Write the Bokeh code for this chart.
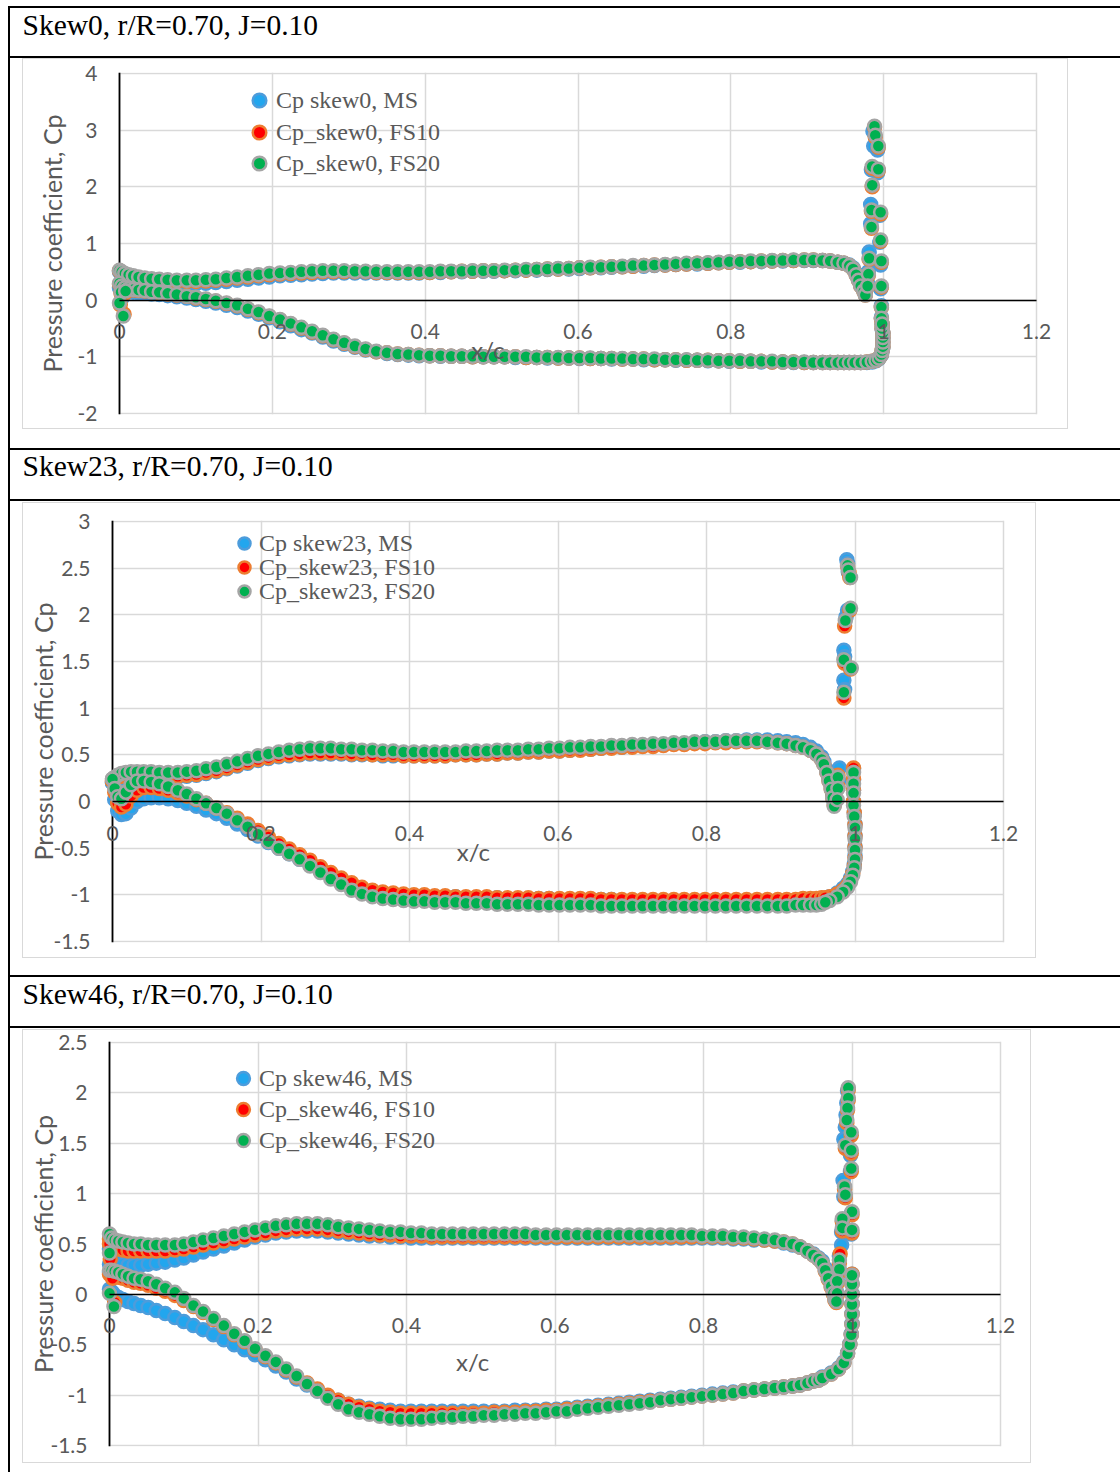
from bokeh.plotting import figure
from bokeh.layouts import column, row
from bokeh.models import Range1d, Label, Legend, LegendItem, Spacer, FixedTicker, Span
from bokeh.core.properties import value
from bokeh.embed import file_html
from bokeh.resources import INLINE

# ------------------------------------------------------------------ data
TITLES = ["Skew0, r/R=0.70, J=0.10", "Skew23, r/R=0.70, J=0.10", "Skew46, r/R=0.70, J=0.10"]
NAMES_1 = ["Cp skew0, MS", "Cp_skew0, FS10", "Cp_skew0, FS20"]
NAMES_2 = ["Cp skew23, MS", "Cp_skew23, FS10", "Cp_skew23, FS20"]
NAMES_3 = ["Cp skew46, MS", "Cp_skew46, FS10", "Cp_skew46, FS20"]
X_TITLE = "x/c"
Y_TITLE = "Pressure coefficient, Cp"

X_TICKS = [0, 0.2, 0.4, 0.6, 0.8, 1, 1.2]
X_TICK_LABELS = ["0", "0.2", "0.4", "0.6", "0.8", "1", "1.2"]
Y_TICKS_1 = [-2, -1, 0, 1, 2, 3, 4]
Y_TICK_LABELS_1 = ["-2", "-1", "0", "1", "2", "3", "4"]
Y_TICKS_2 = [-1.5, -1, -0.5, 0, 0.5, 1, 1.5, 2, 2.5, 3]
Y_TICK_LABELS_2 = ["-1.5", "-1", "-0.5", "0", "0.5", "1", "1.5", "2", "2.5", "3"]
Y_TICKS_3 = [-1.5, -1, -0.5, 0, 0.5, 1, 1.5, 2, 2.5]
Y_TICK_LABELS_3 = ["-1.5", "-1", "-0.5", "0", "0.5", "1", "1.5", "2", "2.5"]

# chordwise stations (shared by both surfaces)
X_ST = [0.000, 0.003, 0.007, 0.012, 0.018, 0.025, 0.033, 0.042, 0.052, 0.063,
        0.075, 0.088, 0.100, 0.113, 0.126, 0.140, 0.154, 0.168, 0.182, 0.196,
        0.210, 0.224, 0.238, 0.252, 0.266, 0.280, 0.294, 0.308, 0.322, 0.336,
        0.350, 0.364, 0.378, 0.392, 0.406, 0.420, 0.434, 0.448, 0.462, 0.476,
        0.490, 0.504, 0.518, 0.532, 0.546, 0.560, 0.574, 0.588, 0.602, 0.616,
        0.630, 0.644, 0.658, 0.672, 0.686, 0.700, 0.714, 0.728, 0.742, 0.756,
        0.770, 0.784, 0.798, 0.812, 0.826, 0.840, 0.854, 0.868, 0.882, 0.896,
        0.908, 0.920, 0.930, 0.940, 0.948, 0.955]

# ---------------- Skew0
P1_MS_UP = [0.50, 0.44, 0.38, 0.34, 0.31, 0.29, 0.28, 0.27, 0.27, 0.27,
            0.27, 0.28, 0.29, 0.30, 0.31, 0.33, 0.35, 0.37, 0.39, 0.41,
            0.43, 0.44, 0.45, 0.46, 0.47, 0.48, 0.48, 0.48, 0.48, 0.48,
            0.48, 0.48, 0.48, 0.48, 0.49, 0.49, 0.50, 0.50, 0.51, 0.51,
            0.51, 0.52, 0.52, 0.53, 0.53, 0.54, 0.55, 0.55, 0.56, 0.57,
            0.57, 0.58, 0.59, 0.60, 0.60, 0.61, 0.62, 0.63, 0.64, 0.64,
            0.65, 0.66, 0.67, 0.67, 0.68, 0.68, 0.69, 0.69, 0.70, 0.70,
            0.70, 0.70, 0.69, 0.67, 0.65, 0.62]
P1_MS_LO = [0.22, 0.18, 0.16, 0.15, 0.14, 0.13, 0.12, 0.11, 0.10, 0.08,
            0.06, 0.04, 0.01, -0.02, -0.05, -0.09, -0.13, -0.19, -0.25, -0.31,
            -0.38, -0.45, -0.52, -0.58, -0.65, -0.72, -0.78, -0.83, -0.88, -0.91,
            -0.94, -0.96, -0.97, -0.98, -0.98, -0.99, -0.99, -0.99, -1.00, -1.00,
            -1.00, -1.00, -1.01, -1.01, -1.01, -1.02, -1.02, -1.02, -1.03, -1.03,
            -1.03, -1.04, -1.04, -1.04, -1.05, -1.05, -1.05, -1.06, -1.06, -1.06,
            -1.07, -1.07, -1.08, -1.08, -1.08, -1.09, -1.09, -1.09, -1.10, -1.10,
            -1.10, -1.10, -1.10, -1.10, -1.10, -1.10]
P1_MS_EX_X = [0.001, 0.004,
              0.960, 0.964, 0.967, 0.970, 0.974, 0.976,
              0.986, 0.987, 0.992, 0.984, 0.992, 0.983, 0.995, 0.983, 0.995, 0.981, 0.996, 0.980,
              0.979, 0.996, 0.997, 0.997,
              0.962, 0.970, 0.978, 0.985, 0.990, 0.994, 0.997, 0.998, 0.999, 0.999, 0.999, 0.999,
              0.998, 0.998]
P1_MS_EX_CP = [0.30, 0.05,
               0.57, 0.47, 0.37, 0.27, 0.18, 0.10,
               2.98, 2.72, 2.65, 2.30, 2.25, 1.69, 1.50, 1.35, 1.02, 0.85, 0.62, 0.50,
               0.30, 0.20, -0.10, -0.30,
               -1.10, -1.10, -1.10, -1.09, -1.07, -1.03, -0.97, -0.90, -0.83, -0.75, -0.67, -0.59,
               -0.51, -0.43]

P1_FS10_UP = [0.52, 0.48, 0.44, 0.41, 0.39, 0.37, 0.36, 0.35, 0.34, 0.33,
              0.33, 0.33, 0.33, 0.34, 0.35, 0.37, 0.39, 0.41, 0.43, 0.45,
              0.46, 0.47, 0.48, 0.49, 0.50, 0.50, 0.50, 0.50, 0.50, 0.49,
              0.49, 0.49, 0.49, 0.49, 0.49, 0.50, 0.50, 0.51, 0.51, 0.52,
              0.52, 0.52, 0.53, 0.53, 0.54, 0.55, 0.55, 0.56, 0.57, 0.57,
              0.58, 0.59, 0.59, 0.60, 0.61, 0.62, 0.62, 0.63, 0.64, 0.65,
              0.65, 0.66, 0.67, 0.68, 0.68, 0.69, 0.69, 0.70, 0.70, 0.71,
              0.71, 0.70, 0.69, 0.67, 0.65, 0.61]
P1_FS10_LO = [0.28, 0.24, 0.21, 0.19, 0.18, 0.17, 0.16, 0.15, 0.13, 0.11,
              0.09, 0.07, 0.04, 0.01, -0.02, -0.06, -0.10, -0.16, -0.22, -0.29,
              -0.35, -0.42, -0.49, -0.56, -0.63, -0.70, -0.76, -0.82, -0.87, -0.91,
              -0.93, -0.95, -0.96, -0.97, -0.98, -0.98, -0.99, -0.99, -1.00, -1.00,
              -1.00, -1.00, -1.00, -1.01, -1.01, -1.01, -1.02, -1.02, -1.02, -1.03,
              -1.03, -1.03, -1.04, -1.04, -1.04, -1.05, -1.05, -1.05, -1.06, -1.06,
              -1.06, -1.07, -1.07, -1.08, -1.08, -1.08, -1.09, -1.09, -1.09, -1.10,
              -1.10, -1.10, -1.10, -1.10, -1.10, -1.10]
P1_FS10_EX_X = [0.002, 0.007, 0.001, 0.006,
                0.960, 0.964, 0.967, 0.970, 0.974, 0.976,
                0.988, 0.989, 0.993, 0.985, 0.993, 0.985, 0.984, 0.996, 0.984, 0.996, 0.981, 0.997,
                0.980, 0.979, 0.997, 0.997, 0.997,
                0.962, 0.970, 0.978, 0.985, 0.990, 0.994, 0.997, 0.998, 0.999, 0.999, 0.999, 0.999,
                0.998, 0.998]
P1_FS10_EX_CP = [0.12, 0.12, -0.08, -0.25,
                 0.55, 0.45, 0.35, 0.25, 0.16, 0.09,
                 3.05, 2.88, 2.70, 2.33, 2.29, 2.00, 1.57, 1.52, 1.27, 1.04, 0.72, 0.67,
                 0.44, 0.24, 0.23, -0.13, -0.33,
                 -1.10, -1.10, -1.09, -1.08, -1.06, -1.02, -0.96, -0.89, -0.82, -0.74, -0.66, -0.58,
                 -0.50, -0.42]

P1_FS20_UP = [0.53, 0.50, 0.47, 0.45, 0.43, 0.41, 0.39, 0.38, 0.37, 0.36,
              0.35, 0.35, 0.35, 0.36, 0.37, 0.39, 0.41, 0.43, 0.45, 0.47,
              0.48, 0.49, 0.50, 0.51, 0.52, 0.52, 0.52, 0.51, 0.51, 0.50,
              0.50, 0.50, 0.50, 0.50, 0.50, 0.51, 0.51, 0.51, 0.52, 0.52,
              0.52, 0.53, 0.53, 0.54, 0.54, 0.55, 0.56, 0.56, 0.57, 0.58,
              0.58, 0.59, 0.60, 0.61, 0.61, 0.62, 0.63, 0.64, 0.65, 0.65,
              0.66, 0.67, 0.68, 0.68, 0.69, 0.69, 0.70, 0.70, 0.71, 0.71,
              0.71, 0.70, 0.69, 0.67, 0.65, 0.61]
P1_FS20_LO = [0.30, 0.25, 0.22, 0.20, 0.19, 0.18, 0.17, 0.15, 0.14, 0.12,
              0.10, 0.07, 0.05, 0.02, -0.01, -0.05, -0.09, -0.15, -0.21, -0.28,
              -0.34, -0.41, -0.48, -0.55, -0.62, -0.69, -0.75, -0.81, -0.86, -0.90,
              -0.93, -0.95, -0.96, -0.97, -0.98, -0.98, -0.99, -0.99, -0.99, -1.00,
              -1.00, -1.00, -1.00, -1.00, -1.01, -1.01, -1.01, -1.02, -1.02, -1.02,
              -1.03, -1.03, -1.03, -1.04, -1.04, -1.04, -1.05, -1.05, -1.05, -1.06,
              -1.06, -1.07, -1.07, -1.07, -1.08, -1.08, -1.08, -1.09, -1.09, -1.09,
              -1.10, -1.10, -1.10, -1.10, -1.10, -1.10]
P1_FS20_EX_X = [0.002, 0.008, 0.000, 0.005,
                0.960, 0.964, 0.967, 0.970, 0.974, 0.976,
                0.988, 0.989, 0.993, 0.985, 0.993, 0.985, 0.984, 0.996, 0.984, 0.996, 0.981, 0.997,
                0.980, 0.979, 0.997, 0.997, 0.997,
                0.962, 0.970, 0.978, 0.985, 0.990, 0.994, 0.997, 0.998, 0.999, 0.999, 0.999, 0.999,
                0.998, 0.998]
P1_FS20_EX_CP = [0.14, 0.16, -0.05, -0.28,
                 0.55, 0.45, 0.35, 0.25, 0.16, 0.09,
                 3.07, 2.91, 2.72, 2.36, 2.31, 2.03, 1.59, 1.55, 1.29, 1.06, 0.74, 0.69,
                 0.46, 0.25, 0.25, -0.12, -0.32,
                 -1.10, -1.10, -1.09, -1.08, -1.06, -1.02, -0.96, -0.89, -0.82, -0.74, -0.66, -0.58,
                 -0.50, -0.42]

# ---------------- Skew23
P2_MS_UP = [0.20, 0.22, 0.24, 0.25, 0.26, 0.26, 0.26, 0.26, 0.26, 0.26,
            0.26, 0.26, 0.27, 0.28, 0.30, 0.32, 0.35, 0.38, 0.41, 0.44,
            0.46, 0.48, 0.49, 0.50, 0.51, 0.51, 0.51, 0.51, 0.50, 0.50,
            0.50, 0.49, 0.49, 0.49, 0.49, 0.49, 0.49, 0.49, 0.50, 0.50,
            0.50, 0.51, 0.51, 0.52, 0.52, 0.53, 0.53, 0.54, 0.54, 0.55,
            0.56, 0.56, 0.57, 0.58, 0.58, 0.59, 0.60, 0.60, 0.61, 0.62,
            0.62, 0.63, 0.64, 0.64, 0.65, 0.65, 0.66, 0.66, 0.66, 0.65,
            0.64, 0.63, 0.61, 0.58, 0.54, 0.48]
P2_MS_LO = [0.20, 0.02, -0.10, -0.14, -0.13, -0.07, 0.00, 0.03, 0.04, 0.04,
            0.03, 0.01, -0.02, -0.05, -0.09, -0.13, -0.18, -0.24, -0.30, -0.37,
            -0.44, -0.50, -0.56, -0.62, -0.68, -0.74, -0.80, -0.85, -0.90, -0.94,
            -0.96, -0.98, -0.99, -1.00, -1.01, -1.01, -1.02, -1.02, -1.02, -1.03,
            -1.03, -1.03, -1.03, -1.04, -1.04, -1.04, -1.04, -1.04, -1.05, -1.05,
            -1.05, -1.05, -1.05, -1.05, -1.06, -1.06, -1.06, -1.06, -1.06, -1.06,
            -1.06, -1.06, -1.06, -1.06, -1.06, -1.06, -1.06, -1.06, -1.06, -1.06,
            -1.06, -1.06, -1.05, -1.05, -1.05, -1.04]
P2_MS_EX_X = [0.958, 0.962, 0.965, 0.968, 0.970, 0.972, 0.979, 0.978,
              0.989, 0.990, 0.991, 0.990, 0.988, 0.985, 0.986, 0.985, 0.986,
              0.998, 0.998, 0.998, 0.998, 0.999, 1.000, 1.000, 1.000, 1.000, 0.999, 0.997, 0.994,
              0.990, 0.984, 0.976, 0.966, 0.960]
P2_MS_EX_CP = [0.43, 0.34, 0.25, 0.16, 0.07, -0.02, 0.36, 0.22,
               2.59, 2.55, 2.46, 2.05, 1.98, 1.62, 1.55, 1.30, 1.20,
               0.35, 0.23, 0.12, 0.00, -0.12, -0.24, -0.36, -0.48, -0.58, -0.67, -0.75, -0.82,
               -0.88, -0.93, -0.98, -1.02, -1.04]

P2_FS10_UP = [0.22, 0.24, 0.26, 0.27, 0.28, 0.28, 0.28, 0.28, 0.28, 0.27,
              0.27, 0.27, 0.28, 0.29, 0.31, 0.33, 0.36, 0.39, 0.42, 0.45,
              0.47, 0.49, 0.50, 0.51, 0.52, 0.52, 0.52, 0.52, 0.51, 0.51,
              0.50, 0.50, 0.50, 0.49, 0.49, 0.49, 0.49, 0.49, 0.50, 0.50,
              0.50, 0.51, 0.51, 0.52, 0.52, 0.53, 0.53, 0.54, 0.54, 0.55,
              0.55, 0.56, 0.57, 0.57, 0.58, 0.58, 0.59, 0.59, 0.60, 0.61,
              0.61, 0.62, 0.62, 0.63, 0.63, 0.64, 0.64, 0.64, 0.64, 0.63,
              0.62, 0.60, 0.58, 0.55, 0.51, 0.45]
P2_FS10_LO = [0.22, 0.10, -0.02, -0.06, -0.03, 0.06, 0.12, 0.15, 0.15, 0.14,
              0.12, 0.09, 0.06, 0.02, -0.02, -0.07, -0.12, -0.18, -0.24, -0.31,
              -0.38, -0.45, -0.51, -0.57, -0.63, -0.70, -0.76, -0.82, -0.87, -0.92,
              -0.95, -0.97, -0.98, -0.99, -1.00, -1.00, -1.01, -1.01, -1.02, -1.02,
              -1.02, -1.02, -1.03, -1.03, -1.03, -1.03, -1.04, -1.04, -1.04, -1.04,
              -1.04, -1.04, -1.05, -1.05, -1.05, -1.05, -1.05, -1.05, -1.05, -1.05,
              -1.05, -1.05, -1.05, -1.05, -1.05, -1.05, -1.05, -1.05, -1.05, -1.05,
              -1.05, -1.05, -1.04, -1.04, -1.04, -1.03]
P2_FS10_EX_X = [0.958, 0.962, 0.965, 0.968, 0.970, 0.972, 0.977, 0.977,
                0.990, 0.992, 0.993, 0.993, 0.986, 0.986, 0.994, 0.985,
                0.998, 0.998, 0.998, 0.998, 0.999, 1.000, 1.000, 1.000, 1.000, 0.999, 0.997, 0.994,
                0.990, 0.984, 0.976, 0.966, 0.960]
P2_FS10_EX_CP = [0.40, 0.31, 0.22, 0.13, 0.04, -0.04, 0.28, 0.16,
                 2.52, 2.45, 2.40, 2.05, 1.88, 1.48, 1.42, 1.11,
                 0.36, 0.24, 0.12, 0.00, -0.12, -0.25, -0.37, -0.49, -0.60, -0.69, -0.77, -0.84,
                 -0.90, -0.95, -0.99, -1.02, -1.03]

P2_FS20_UP = [0.24, 0.26, 0.28, 0.30, 0.31, 0.32, 0.32, 0.32, 0.32, 0.31,
              0.31, 0.31, 0.32, 0.33, 0.35, 0.37, 0.40, 0.43, 0.46, 0.49,
              0.51, 0.53, 0.55, 0.56, 0.57, 0.57, 0.57, 0.56, 0.56, 0.55,
              0.55, 0.54, 0.54, 0.53, 0.53, 0.53, 0.53, 0.53, 0.53, 0.54,
              0.54, 0.54, 0.55, 0.55, 0.55, 0.56, 0.56, 0.57, 0.57, 0.58,
              0.58, 0.59, 0.59, 0.60, 0.60, 0.61, 0.61, 0.62, 0.62, 0.63,
              0.63, 0.64, 0.64, 0.64, 0.65, 0.65, 0.65, 0.65, 0.64, 0.63,
              0.62, 0.60, 0.58, 0.55, 0.51, 0.45]
P2_FS20_LO = [0.24, 0.14, 0.05, 0.03, 0.10, 0.18, 0.22, 0.22, 0.21, 0.19,
              0.16, 0.12, 0.08, 0.03, -0.02, -0.07, -0.13, -0.20, -0.27, -0.35,
              -0.43, -0.50, -0.56, -0.62, -0.69, -0.76, -0.83, -0.89, -0.95, -0.99,
              -1.02, -1.04, -1.05, -1.06, -1.07, -1.07, -1.08, -1.08, -1.08, -1.09,
              -1.09, -1.09, -1.10, -1.10, -1.10, -1.10, -1.11, -1.11, -1.11, -1.11,
              -1.11, -1.11, -1.12, -1.12, -1.12, -1.12, -1.12, -1.12, -1.12, -1.12,
              -1.12, -1.12, -1.12, -1.12, -1.12, -1.12, -1.12, -1.12, -1.12, -1.12,
              -1.12, -1.11, -1.11, -1.11, -1.11, -1.10]
P2_FS20_EX_X = [0.958, 0.962, 0.965, 0.968, 0.970, 0.972, 0.977, 0.977, 0.976,
                0.990, 0.991, 0.994, 0.994, 0.987, 0.985, 0.995, 0.985,
                0.998, 0.998, 0.998, 0.998, 0.999, 1.000, 1.000, 1.000, 1.000, 0.999, 0.997, 0.994,
                0.990, 0.984, 0.976, 0.966, 0.960]
P2_FS20_EX_CP = [0.40, 0.31, 0.22, 0.13, 0.04, -0.05, 0.26, 0.14, 0.02,
                 2.53, 2.48, 2.40, 2.07, 1.94, 1.52, 1.43, 1.17,
                 0.31, 0.19, 0.09, -0.04, -0.16, -0.28, -0.40, -0.52, -0.62, -0.71, -0.79, -0.86,
                 -0.92, -0.97, -1.02, -1.06, -1.08]

# ---------------- Skew46
P3_MS_UP = [0.45, 0.40, 0.35, 0.32, 0.30, 0.29, 0.29, 0.29, 0.30, 0.31,
            0.32, 0.34, 0.36, 0.39, 0.42, 0.45, 0.48, 0.51, 0.54, 0.57,
            0.59, 0.61, 0.62, 0.63, 0.63, 0.63, 0.62, 0.61, 0.60, 0.59,
            0.58, 0.58, 0.57, 0.57, 0.56, 0.56, 0.56, 0.56, 0.56, 0.56,
            0.56, 0.56, 0.56, 0.56, 0.56, 0.56, 0.56, 0.56, 0.56, 0.56,
            0.56, 0.56, 0.56, 0.56, 0.56, 0.56, 0.56, 0.56, 0.56, 0.56,
            0.56, 0.56, 0.56, 0.56, 0.56, 0.55, 0.55, 0.54, 0.54, 0.53,
            0.51, 0.49, 0.47, 0.43, 0.40, 0.36]
P3_MS_LO = [0.05, 0.02, -0.01, -0.03, -0.05, -0.07, -0.09, -0.11, -0.13, -0.16,
            -0.19, -0.23, -0.27, -0.31, -0.35, -0.40, -0.45, -0.50, -0.55, -0.60,
            -0.65, -0.71, -0.77, -0.84, -0.90, -0.96, -1.01, -1.05, -1.09, -1.11,
            -1.13, -1.14, -1.15, -1.16, -1.16, -1.16, -1.16, -1.16, -1.16, -1.16,
            -1.16, -1.16, -1.16, -1.16, -1.15, -1.15, -1.15, -1.14, -1.14, -1.13,
            -1.12, -1.11, -1.10, -1.09, -1.08, -1.07, -1.06, -1.05, -1.04, -1.03,
            -1.02, -1.01, -1.00, -0.99, -0.98, -0.97, -0.96, -0.95, -0.94, -0.93,
            -0.92, -0.91, -0.90, -0.88, -0.86, -0.85]
P3_MS_EX_X = [0.000, 0.000, 0.004,
              0.960, 0.964, 0.968, 0.972, 0.975, 0.977,
              0.994, 0.993, 0.992, 0.991, 0.997, 0.989, 0.998, 0.998, 0.988, 0.989, 0.999, 0.987,
              0.986, 0.999, 0.986, 0.983, 0.982, 0.980, 0.979, 0.978,
              0.960, 0.972, 0.982, 0.989, 0.994, 0.997, 0.999, 1.000, 1.000, 1.000, 1.000, 1.000,
              1.000]
P3_MS_EX_CP = [0.30, 0.22, 0.02,
               0.33, 0.26, 0.18, 0.10, 0.03, -0.03,
               2.02, 1.90, 1.78, 1.66, 1.57, 1.54, 1.38, 1.22, 1.13, 0.97, 0.80, 0.73,
               0.62, 0.60, 0.49, 0.38, 0.27, 0.15, 0.03, -0.05,
               -0.82, -0.78, -0.73, -0.67, -0.58, -0.49, -0.39, -0.29, -0.19, -0.09, 0.01, 0.11,
               0.20]

P3_FS10_UP = [0.55, 0.50, 0.47, 0.45, 0.44, 0.43, 0.43, 0.43, 0.43, 0.43,
              0.43, 0.44, 0.45, 0.47, 0.49, 0.51, 0.53, 0.55, 0.57, 0.59,
              0.61, 0.63, 0.64, 0.65, 0.65, 0.65, 0.64, 0.63, 0.62, 0.61,
              0.60, 0.59, 0.59, 0.58, 0.58, 0.58, 0.57, 0.57, 0.57, 0.57,
              0.57, 0.57, 0.57, 0.57, 0.57, 0.57, 0.57, 0.57, 0.57, 0.57,
              0.57, 0.57, 0.57, 0.57, 0.57, 0.57, 0.57, 0.57, 0.57, 0.57,
              0.57, 0.57, 0.57, 0.57, 0.57, 0.56, 0.56, 0.55, 0.54, 0.53,
              0.52, 0.50, 0.47, 0.43, 0.39, 0.35]
P3_FS10_LO = [0.20, 0.19, 0.18, 0.17, 0.16, 0.14, 0.12, 0.11, 0.09, 0.06,
              0.03, -0.01, -0.06, -0.12, -0.18, -0.25, -0.32, -0.40, -0.47, -0.55,
              -0.62, -0.68, -0.75, -0.82, -0.88, -0.94, -1.00, -1.05, -1.09, -1.12,
              -1.14, -1.16, -1.17, -1.18, -1.18, -1.18, -1.18, -1.18, -1.18, -1.18,
              -1.18, -1.18, -1.17, -1.17, -1.17, -1.16, -1.16, -1.15, -1.15, -1.14,
              -1.13, -1.12, -1.11, -1.10, -1.09, -1.08, -1.07, -1.06, -1.05, -1.04,
              -1.03, -1.02, -1.01, -1.00, -0.99, -0.98, -0.96, -0.95, -0.94, -0.93,
              -0.92, -0.91, -0.90, -0.88, -0.86, -0.85]
P3_FS10_EX_X = [0.000, 0.001, 0.004, 0.007,
                0.960, 0.964, 0.968, 0.972, 0.975, 0.977,
                0.995, 0.995, 0.994, 0.993, 0.999, 0.991, 0.999, 0.999, 0.990, 0.991, 1.000, 0.987,
                0.987, 1.000, 0.984, 0.983, 0.983, 0.980, 0.980, 0.979,
                0.960, 0.972, 0.982, 0.989, 0.994, 0.997, 0.999, 1.000, 1.000, 1.000, 1.000, 1.000,
                1.000]
P3_FS10_EX_CP = [0.50, 0.35, 0.16, -0.08,
                 0.31, 0.23, 0.15, 0.07, 0.00, -0.06,
                 2.03, 1.93, 1.83, 1.70, 1.58, 1.45, 1.40, 1.22, 1.04, 0.96, 0.79, 0.72,
                 0.63, 0.61, 0.40, 0.31, 0.22, 0.11, -0.01, -0.08,
                 -0.83, -0.79, -0.74, -0.68, -0.59, -0.50, -0.40, -0.30, -0.20, -0.10, 0.00, 0.10,
                 0.20]

P3_FS20_UP = [0.60, 0.56, 0.54, 0.53, 0.52, 0.51, 0.50, 0.50, 0.49, 0.49,
              0.49, 0.49, 0.50, 0.52, 0.54, 0.56, 0.58, 0.60, 0.62, 0.64,
              0.66, 0.68, 0.69, 0.70, 0.70, 0.70, 0.69, 0.67, 0.66, 0.65,
              0.64, 0.63, 0.62, 0.62, 0.61, 0.61, 0.60, 0.60, 0.60, 0.60,
              0.60, 0.60, 0.60, 0.60, 0.60, 0.60, 0.59, 0.59, 0.59, 0.59,
              0.59, 0.59, 0.59, 0.59, 0.59, 0.59, 0.59, 0.59, 0.59, 0.59,
              0.59, 0.59, 0.58, 0.58, 0.58, 0.57, 0.57, 0.56, 0.55, 0.54,
              0.52, 0.50, 0.47, 0.43, 0.39, 0.35]
P3_FS20_LO = [0.24, 0.24, 0.23, 0.22, 0.20, 0.18, 0.16, 0.15, 0.13, 0.10,
              0.06, 0.02, -0.04, -0.11, -0.17, -0.24, -0.31, -0.39, -0.46, -0.54,
              -0.61, -0.67, -0.74, -0.81, -0.89, -0.96, -1.03, -1.09, -1.14, -1.17,
              -1.19, -1.21, -1.23, -1.24, -1.24, -1.24, -1.23, -1.22, -1.22, -1.21,
              -1.21, -1.20, -1.20, -1.19, -1.19, -1.18, -1.18, -1.17, -1.16, -1.16,
              -1.14, -1.13, -1.12, -1.11, -1.10, -1.09, -1.08, -1.07, -1.05, -1.04,
              -1.03, -1.02, -1.01, -1.00, -0.99, -0.98, -0.96, -0.95, -0.94, -0.93,
              -0.92, -0.91, -0.90, -0.88, -0.86, -0.85]
P3_FS20_EX_X = [0.000, 0.000, 0.006,
                0.960, 0.964, 0.968, 0.972, 0.975, 0.977,
                0.995, 0.995, 0.994, 0.993, 0.999, 0.991, 0.999, 0.999, 0.990, 0.991, 1.000, 0.987,
                0.987, 1.000, 0.983, 0.983, 0.980, 0.980, 0.979,
                0.960, 0.972, 0.982, 0.989, 0.994, 0.997, 0.999, 1.000, 1.000, 1.000, 1.000, 1.000,
                1.000]
P3_FS20_EX_CP = [0.41, 0.01, -0.12,
                 0.31, 0.24, 0.16, 0.08, 0.01, -0.05,
                 2.05, 1.95, 1.85, 1.73, 1.61, 1.48, 1.43, 1.25, 1.07, 0.99, 0.82, 0.75,
                 0.66, 0.64, 0.34, 0.25, 0.13, 0.01, -0.07,
                 -0.83, -0.79, -0.74, -0.68, -0.59, -0.50, -0.40, -0.30, -0.20, -0.10, 0.00, 0.10,
                 0.19]

# ------------------------------------------------------------------ styling
GRID = "#d9d9d9"
TXT = "#595959"
FILLS = ["#22A6EE", "#FF0000", "#00B050"]
LINES = ["#4D9CDB", "#ED7D31", "#A5A5A5"]
W_IN = 1110
TICK_FONT = "21px"
PADX_PX = 19   # frame extends this far beyond x=0 and x=1.2 so edge tick labels are not clipped
PADY_PX = 1


def curve(up, lo, ex_x, ex_cp):
    n_up = min(len(X_ST), len(up))
    n_lo = min(len(X_ST), len(lo))
    n_ex = min(len(ex_x), len(ex_cp))
    xs = list(X_ST[:n_up]) + list(X_ST[:n_lo]) + list(ex_x[:n_ex])
    ys = list(up[:n_up]) + list(lo[:n_lo]) + list(ex_cp[:n_ex])
    return xs, ys


def solid(w, h, color):
    f = figure(width=w, height=h, title=None, output_backend="svg", toolbar_location=None,
               min_border=0, x_axis_type=None, y_axis_type=None,
               styles={"background-color": color})
    f.background_fill_color = color
    f.border_fill_color = color
    f.outline_line_color = None
    return f


def header(text, h, mid_y):
    f = figure(width=W_IN, height=h, title=None, x_range=Range1d(0, W_IN), y_range=Range1d(0, h),
               output_backend="svg", toolbar_location=None, min_border=0,
               x_axis_type=None, y_axis_type=None)
    f.outline_line_color = None
    f.background_fill_color = "white"
    f.border_fill_color = "white"
    f.add_layout(Label(x=12, y=mid_y, text=text, text_font="Liberation Serif",
                       text_font_size="29.5px", text_color="black", text_baseline="middle"))
    return f


def chart(series, names, yr, yticks, ylabels, fw, fh, mb, ylab_so, leg_x, leg_rows, gsz, xc):
    x0, x1 = X_TICKS[0], X_TICKS[-1]
    sx = (fw - mb[0] - mb[1]) / (x1 - x0)
    sy = (fh - mb[2] - mb[3]) / (yr[1] - yr[0])
    padx = PADX_PX / sx
    pady = PADY_PX / sy
    frame_h = fh - mb[2] - mb[3] + 2 * PADY_PX
    p = figure(width=fw, height=fh, title=None, x_range=Range1d(x0 - padx, x1 + padx),
               y_range=Range1d(yr[0] - pady, yr[1] + pady),
               output_backend="svg", toolbar_location=None,
               min_border_left=mb[0] - PADX_PX, min_border_right=mb[1] - PADX_PX,
               min_border_top=mb[2] - PADY_PX, min_border_bottom=mb[3] - PADY_PX)
    p.background_fill_color = "white"
    p.border_fill_color = "white"
    p.outline_line_color = None

    xa = p.xaxis[0]
    ya = p.yaxis[0]
    xa.ticker = FixedTicker(ticks=X_TICKS)
    ya.ticker = FixedTicker(ticks=yticks)
    p.xgrid.ticker = FixedTicker(ticks=X_TICKS)
    p.ygrid.ticker = FixedTicker(ticks=yticks)
    xa.major_label_overrides = {t: s for t, s in zip(X_TICKS, X_TICK_LABELS)}
    ya.major_label_overrides = {t: s for t, s in zip(yticks, ylabels)}
    for ax in (xa, ya):
        ax.major_tick_line_color = None
        ax.minor_tick_line_color = None
        ax.major_tick_in = 0
        ax.major_tick_out = 0
        ax.minor_tick_in = 0
        ax.minor_tick_out = 0
        ax.major_label_text_font = "Lato"
        ax.major_label_text_font_size = TICK_FONT
        ax.major_label_text_color = TXT
    # horizontal axis crosses at Cp = 0
    xa.fixed_location = 0
    xa.bounds = (x0, x1)
    xa.axis_line_color = "black"
    xa.axis_line_width = 1.5
    xa.major_label_standoff = 24
    # vertical axis: labels on the left, its line drawn at x = 0
    ya.axis_line_color = None
    ya.major_label_standoff = 22 - PADX_PX
    ya.axis_label = Y_TITLE
    ya.axis_label_text_font = "Lato"
    ya.axis_label_text_font_size = "25px"
    ya.axis_label_text_font_style = "normal"
    ya.axis_label_text_color = TXT
    ya.axis_label_standoff = ylab_so
    p.add_layout(Span(location=x0, dimension="height", line_color="black", line_width=1.8,
                      level="underlay"))

    p.xgrid.grid_line_color = GRID
    p.ygrid.grid_line_color = GRID
    p.xgrid.grid_line_width = 1.5
    p.ygrid.grid_line_width = 1.5
    yg = p.ygrid[0]
    if "cross_bounds" in type(yg).properties():
        yg.cross_bounds = (x0, x1)

    rends = []
    for (xs, ys), fc, lc in zip(series, FILLS, LINES):
        r = p.scatter(x=xs, y=ys, marker="circle", size=13, fill_color=fc,
                      line_color=lc, line_width=2.5)
        rends.append(r)

    p.add_layout(Label(x=xc[0], y=xc[1], text=X_TITLE, text_font="Lato", text_font_size="24px",
                       text_color=TXT, text_align="center", text_baseline="middle"))

    for n, r, cy in zip(names, rends, leg_rows):
        leg = Legend(items=[LegendItem(label=value(n), renderers=[r])],
                     location=(PADX_PX + leg_x - gsz / 2, frame_h - (cy + PADY_PX) - gsz / 2),
                     orientation="vertical", glyph_width=gsz, glyph_height=gsz,
                     spacing=0, padding=0, margin=0, label_standoff=0,
                     label_text_font="Liberation Serif", label_text_font_size="24px",
                     label_text_color=TXT, border_line_color=None, background_fill_alpha=0)
        p.add_layout(leg)
    return p


def block(p, fw, fh, top_gap, bottom_gap):
    box = column(solid(fw + 2, 1, GRID),
                 row(solid(1, fh, GRID), p, solid(1, fh, GRID)),
                 solid(fw + 2, 1, GRID))
    kids = []
    if top_gap > 0:
        kids.append(Spacer(width=10, height=top_gap))
    kids.append(row(Spacer(width=12, height=fh + 2), box))
    if bottom_gap > 0:
        kids.append(Spacer(width=10, height=bottom_gap))
    return column(*kids)


S1 = [curve(P1_MS_UP, P1_MS_LO, P1_MS_EX_X, P1_MS_EX_CP),
      curve(P1_FS10_UP, P1_FS10_LO, P1_FS10_EX_X, P1_FS10_EX_CP),
      curve(P1_FS20_UP, P1_FS20_LO, P1_FS20_EX_X, P1_FS20_EX_CP)]
S2 = [curve(P2_MS_UP, P2_MS_LO, P2_MS_EX_X, P2_MS_EX_CP),
      curve(P2_FS10_UP, P2_FS10_LO, P2_FS10_EX_X, P2_FS10_EX_CP),
      curve(P2_FS20_UP, P2_FS20_LO, P2_FS20_EX_X, P2_FS20_EX_CP)]
S3 = [curve(P3_MS_UP, P3_MS_LO, P3_MS_EX_X, P3_MS_EX_CP),
      curve(P3_FS10_UP, P3_FS10_LO, P3_FS10_EX_X, P3_FS10_EX_CP),
      curve(P3_FS20_UP, P3_FS20_LO, P3_FS20_EX_X, P3_FS20_EX_CP)]

# legend: marker centre x and row centres, in px from the (x=0, y=top) corner of the plot area
c1 = chart(S1, NAMES_1, (-2, 4), Y_TICKS_1, Y_TICK_LABELS_1, 1044, 369, (96, 31, 14, 15),
           8, 140, (27, 59, 90), 34, (0.482, -0.864))
c2 = chart(S2, NAMES_2, (-1.5, 3), Y_TICKS_2, Y_TICK_LABELS_2, 1012, 454, (89, 32, 18, 16),
           -8, 132, (22, 46, 70), 30, (0.486, -0.536))
c3 = chart(S3, NAMES_3, (-1.5, 2.5), Y_TICKS_3, Y_TICK_LABELS_3, 1007, 432, (86, 30, 12, 17),
           -11, 134, (36, 67, 98), 32, (0.489, -0.665))

content = column(
    solid(W_IN, 2, "black"), header(TITLES[0], 48, 31.5), solid(W_IN, 2, "black"),
    block(c1, 1044, 369, 0, 19),
    solid(W_IN, 2, "black"), header(TITLES[1], 49, 34), solid(W_IN, 2, "black"),
    block(c2, 1012, 454, 1, 17),
    solid(W_IN, 2, "black"), header(TITLES[2], 49, 33), solid(W_IN, 2, "black"),
    block(c3, 1007, 432, 1, 9),
)
page = column(Spacer(width=20, height=6),
              row(Spacer(width=8, height=1466), solid(2, 1466, "black"), content))

open("out.html", "w").write(file_html(page, INLINE, title="Cp distributions"))
